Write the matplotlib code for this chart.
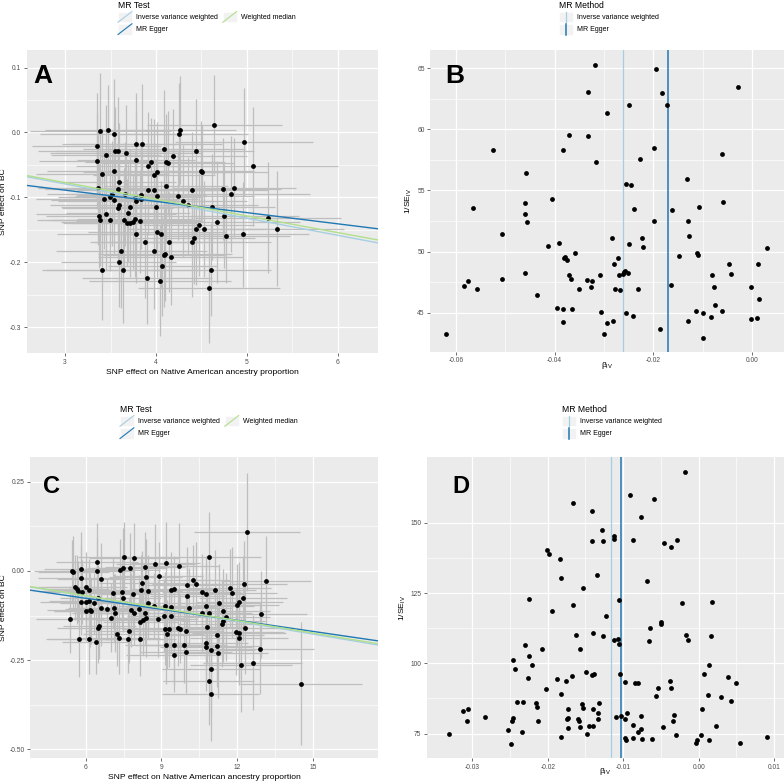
import matplotlib
matplotlib.use('Agg')
import matplotlib.pyplot as plt
import numpy as np
from matplotlib.legend_handler import HandlerBase
from matplotlib.lines import Line2D
from matplotlib.patches import Rectangle

plt.rcParams['font.family'] = ['Liberation Sans', 'DejaVu Sans']
plt.rcParams['mathtext.fontset'] = 'custom'
plt.rcParams['mathtext.rm'] = 'Liberation Sans'
plt.rcParams['mathtext.it'] = 'Liberation Sans:italic'

# ---- panel A : scatter, first cohort ----
bx_a = [3.35, 3.35, 3.39, 3.47, 3.54, 3.45, 3.41, 3.36, 3.43, 3.37,
        3.39, 3.45, 3.49, 3.55, 3.58, 3.54, 3.59, 3.58, 3.52, 3.49,
        3.54, 3.59, 3.58, 3.67, 3.78, 3.85, 3.78, 3.91, 3.94, 3.98,
        4.01, 3.66, 3.77, 3.78, 3.83, 3.84, 3.91, 3.98, 4.01, 4.00,
        3.71, 3.69, 3.65, 3.68, 3.71, 3.75, 3.77, 3.82, 3.78, 3.88,
        4.01, 4.06, 4.14, 3.98, 4.10, 4.09, 4.16, 3.62, 3.59, 3.64,
        3.41, 3.90, 4.04, 4.07, 4.09, 4.11, 4.13, 4.19, 4.11, 4.25,
        4.26, 4.24, 4.30, 4.35, 4.44, 4.40, 4.49, 4.51, 4.40, 4.42,
        4.44, 4.47, 4.53, 4.62, 4.64, 4.67, 4.60, 4.58, 4.74, 4.75,
        4.77, 4.82, 4.86, 4.97, 4.96, 5.07, 5.23, 5.33]
by_a = [-0.021, -0.044, 0.002, 0.004, -0.002, -0.035, -0.064, -0.086, -0.103, -0.129,
        -0.134, -0.126, -0.134, -0.028, -0.029, -0.059, -0.077, -0.087, -0.094, -0.099,
        -0.104, -0.111, -0.117, -0.031, -0.018, -0.018, -0.043, -0.051, -0.046, -0.066,
        -0.061, -0.095, -0.100, -0.106, -0.103, -0.097, -0.088, -0.089, -0.098, -0.114,
        -0.114, -0.124, -0.135, -0.139, -0.139, -0.138, -0.133, -0.137, -0.157, -0.169,
        -0.153, -0.157, -0.168, -0.183, -0.187, -0.189, -0.191, -0.183, -0.200, -0.212,
        -0.211, -0.224, -0.228, -0.206, -0.025, -0.046, -0.047, -0.036, -0.082, -0.003,
        0.004, -0.098, -0.106, -0.112, -0.029, -0.089, -0.059, -0.061, -0.169, -0.163,
        -0.148, -0.142, -0.148, -0.115, 0.012, -0.138, -0.211, -0.239, -0.087, -0.128,
        -0.159, -0.095, -0.085, -0.015, -0.157, -0.052, -0.131, -0.148]
sx_a = [0.71, 0.64, 0.78, 0.69, 0.82, 0.60, 0.73, 0.66, 0.75, 0.58,
        0.70, 0.77, 0.62, 0.85, 0.68, 0.74, 0.63, 0.80, 0.72, 0.57,
        0.69, 0.76, 0.61, 0.83, 0.70, 0.88, 0.65, 0.79, 0.72, 0.67,
        0.81, 0.59, 0.74, 0.86, 0.63, 0.71, 0.78, 0.66, 0.90, 0.62,
        0.75, 0.68, 0.84, 0.60, 0.73, 0.79, 0.64, 0.70, 0.87, 0.61,
        0.76, 0.69, 0.82, 0.58, 0.74, 0.67, 0.80, 0.72, 0.63, 0.85,
        0.66, 0.71, 0.78, 0.60, 0.89, 0.65, 0.73, 0.81, 0.68, 0.76,
        0.62, 0.84, 0.70, 0.77, 0.64, 0.83, 0.59, 0.72, 0.86, 0.67,
        0.75, 0.61, 0.80, 0.69, 0.74, 0.91, 0.66, 0.78, 0.63, 0.82,
        0.70, 0.87, 0.68, 0.76, 0.72, 0.93, 0.80, 0.74]
sy_a = [0.082, 0.074, 0.090, 0.069, 0.085, 0.078, 0.071, 0.088, 0.076, 0.080,
        0.072, 0.086, 0.079, 0.067, 0.083, 0.075, 0.091, 0.070, 0.081, 0.077,
        0.084, 0.068, 0.087, 0.073, 0.079, 0.092, 0.074, 0.082, 0.069, 0.086,
        0.077, 0.080, 0.071, 0.089, 0.075, 0.083, 0.070, 0.085, 0.078, 0.073,
        0.088, 0.076, 0.081, 0.067, 0.084, 0.072, 0.090, 0.079, 0.074, 0.086,
        0.070, 0.083, 0.077, 0.089, 0.073, 0.080, 0.075, 0.087, 0.069, 0.082,
        0.078, 0.071, 0.085, 0.076, 0.091, 0.074, 0.080, 0.072, 0.088, 0.079,
        0.083, 0.068, 0.086, 0.075, 0.081, 0.090, 0.077, 0.073, 0.084, 0.070,
        0.087, 0.079, 0.074, 0.082, 0.076, 0.094, 0.071, 0.085, 0.078, 0.080,
        0.073, 0.089, 0.076, 0.083, 0.081, 0.092, 0.086, 0.088]

# MR estimates (intercept, slope) for panel A
methods = ['Inverse variance weighted', 'MR Egger', 'Weighted median']
method_colors = ['#A6CEE3', '#1F78B4', '#B2DF8A']
icpt_a = [0.0, -0.0369, 0.0]
slope_a = [-0.0264, -0.0173, -0.0257]

# ---- panel B : funnel, first cohort ----
beta_b = [-0.0620, -0.0584, -0.0576, -0.0558, -0.0565, -0.0525, -0.0506, -0.0506, -0.0459, -0.0461,
          -0.0460, -0.0457, -0.0460, -0.0436, -0.0414, -0.0406, -0.0391, -0.0395, -0.0384, -0.0383,
          -0.0382, -0.0379, -0.0376, -0.0372, -0.0366, -0.0364, -0.0359, -0.0370, -0.0383, -0.0351,
          -0.0334, -0.0333, -0.0332, -0.0326, -0.0324, -0.0318, -0.0317, -0.0309, -0.0307, -0.0300,
          -0.0295, -0.0295, -0.0284, -0.0281, -0.0280, -0.0277, -0.0271, -0.0269, -0.0267, -0.0262,
          -0.0259, -0.0258, -0.0255, -0.0251, -0.0249, -0.0249, -0.0255, -0.0245, -0.0241, -0.0239,
          -0.0232, -0.0228, -0.0223, -0.0222, -0.0199, -0.0199, -0.0195, -0.0187, -0.0182, -0.0172,
          -0.0165, -0.0163, -0.0149, -0.0132, -0.0130, -0.0129, -0.0128, -0.0114, -0.0111, -0.0109,
          -0.0108, -0.0100, -0.0099, -0.0084, -0.0082, -0.0078, -0.0075, -0.0061, -0.0061, -0.0058,
          -0.0047, -0.0043, -0.0028, -0.0003, -0.0002, 0.0009, 0.0012, 0.0014, 0.0030]
inv_se_b = [43.25, 47.21, 47.62, 46.97, 53.58, 58.31, 51.45, 47.73, 56.45, 53.99,
            53.09, 52.38, 48.25, 46.48, 50.44, 54.32, 50.74, 45.38, 45.33, 44.23,
            49.45, 49.56, 49.29, 48.06, 47.73, 45.33, 49.92, 59.56, 58.28, 46.91,
            47.70, 59.45, 63.09, 47.10, 47.62, 65.30, 57.32, 48.09, 45.08, 43.22,
            61.37, 44.15, 51.12, 44.29, 48.96, 46.91, 49.48, 48.09, 46.83, 48.20,
            48.31, 48.42, 45.00, 48.25, 50.63, 62.02, 55.52, 55.41, 44.75, 53.52,
            46.91, 57.60, 51.12, 50.36, 52.49, 58.44, 64.95, 43.63, 63.01, 62.00,
            47.30, 53.39, 49.62, 55.90, 44.29, 52.46, 51.28, 45.16, 49.84, 49.70,
            53.66, 44.97, 42.92, 44.64, 48.06, 47.13, 45.63, 57.98, 45.14, 54.07,
            48.99, 48.17, 63.50, 47.08, 44.51, 44.54, 49.02, 46.09, 50.33]
vline_b = [-0.0262, -0.0171]

# ---- panel C : scatter, second cohort ----
bx_c = [5.39, 5.46, 5.51, 5.59, 5.64, 5.68, 5.80, 5.83, 5.84, 6.03,
        6.12, 5.74, 5.83, 6.03, 6.11, 6.03, 6.15, 6.21, 6.13, 6.33,
        6.44, 6.44, 6.48, 6.62, 6.42, 6.48, 6.53, 6.62, 6.85, 7.08,
        7.12, 7.16, 6.99, 7.24, 7.31, 7.37, 7.48, 7.52, 7.48, 7.45,
        7.70, 7.76, 7.69, 7.89, 7.92, 7.92, 7.78, 8.11, 8.19, 8.23,
        8.38, 8.35, 8.48, 8.35, 8.38, 8.26, 8.17, 8.17, 8.47, 8.76,
        8.89, 8.72, 8.85, 9.12, 9.15, 9.18, 9.15, 9.29, 9.24, 9.18,
        9.38, 9.38, 9.40, 9.48, 9.48, 9.48, 9.67, 9.73, 9.71, 9.89,
        9.96, 9.96, 10.03, 10.03, 10.11, 10.27, 10.39, 10.59, 10.59, 10.77,
        10.78, 10.82, 10.88, 10.89, 10.78, 10.78, 10.98, 10.97, 10.88, 10.96,
        11.11, 11.21, 11.21, 11.25, 11.30, 11.41, 11.44, 11.46, 11.58, 11.71,
        11.80, 11.95, 11.99, 12.08, 12.09, 12.09, 12.16, 12.24, 12.29, 12.32,
        12.38, 12.62, 12.89, 12.95, 13.14, 14.54]
by_c = [-0.136, -0.001, -0.004, -0.046, -0.052, -0.057, 0.006, -0.020, -0.059, -0.046,
        -0.054, -0.192, -0.087, -0.087, -0.083, -0.112, -0.110, -0.112, -0.191, -0.091,
        0.025, 0.001, -0.075, -0.024, -0.199, -0.160, -0.155, -0.105, -0.107, -0.061,
        -0.104, -0.118, -0.131, -0.177, -0.188, 0.002, 0.007, 0.039, -0.077, -0.059,
        -0.168, 0.007, -0.191, -0.065, 0.036, -0.119, -0.110, -0.106, -0.054, -0.035,
        -0.016, 0.012, -0.057, -0.118, -0.131, -0.138, -0.143, -0.190, -0.091, 0.018,
        -0.015, -0.098, -0.135, -0.126, -0.099, 0.023, -0.164, -0.164, -0.178, -0.209,
        -0.126, -0.100, -0.054, -0.050, -0.209, -0.235, -0.159, -0.162, 0.014, -0.209,
        -0.169, -0.227, -0.040, -0.069, -0.103, -0.026, -0.036, -0.058, -0.117, -0.065,
        -0.097, -0.157, -0.118, 0.039, -0.201, -0.214, -0.221, -0.275, -0.309, -0.346,
        -0.054, -0.180, -0.211, -0.231, -0.090, -0.148, -0.141, -0.113, -0.129, -0.048,
        -0.061, -0.172, -0.096, -0.188, -0.087, -0.174, -0.263, -0.077, -0.038, -0.161,
        0.109, -0.257, -0.218, -0.122, -0.029, -0.316]
sx_c = [1.35, 1.52, 1.41, 1.68, 1.29, 1.57, 1.44, 1.73, 1.36, 1.61,
        1.48, 1.32, 1.66, 1.39, 1.55, 1.27, 1.70, 1.46, 1.58, 1.34,
        1.63, 1.42, 1.51, 1.76, 1.38, 1.60, 1.45, 1.31, 1.67, 1.53,
        1.40, 1.72, 1.49, 1.36, 1.64, 1.57, 1.43, 1.81, 1.50, 1.37,
        1.69, 1.46, 1.55, 1.33, 1.78, 1.48, 1.62, 1.40, 1.54, 1.71,
        1.44, 1.59, 1.35, 1.66, 1.52, 1.84, 1.47, 1.39, 1.63, 1.56,
        1.75, 1.42, 1.60, 1.50, 1.68, 1.37, 1.58, 1.86, 1.45, 1.62,
        1.53, 1.79, 1.41, 1.67, 1.55, 1.90, 1.48, 1.64, 1.57, 1.73,
        1.44, 1.82, 1.61, 1.50, 1.69, 1.46, 1.77, 1.58, 1.65, 1.52,
        1.88, 1.60, 1.71, 2.05, 1.66, 1.83, 1.74, 1.95, 1.80, 1.92,
        1.63, 1.86, 1.70, 1.98, 1.59, 1.76, 1.68, 1.85, 1.73, 1.62,
        1.79, 1.91, 1.66, 1.94, 1.72, 1.87, 2.02, 1.75, 1.69, 1.84,
        2.10, 1.97, 2.15, 1.81, 1.78, 2.42]
sy_c = [0.095, 0.088, 0.102, 0.091, 0.097, 0.085, 0.104, 0.093, 0.089, 0.100,
        0.087, 0.106, 0.094, 0.090, 0.098, 0.084, 0.103, 0.092, 0.099, 0.086,
        0.108, 0.095, 0.091, 0.101, 0.089, 0.097, 0.093, 0.105, 0.088, 0.099,
        0.094, 0.110, 0.096, 0.090, 0.102, 0.087, 0.112, 0.098, 0.093, 0.104,
        0.091, 0.100, 0.095, 0.108, 0.097, 0.089, 0.103, 0.094, 0.099, 0.092,
        0.106, 0.096, 0.101, 0.090, 0.111, 0.098, 0.094, 0.105, 0.100, 0.113,
        0.097, 0.092, 0.107, 0.102, 0.095, 0.115, 0.099, 0.104, 0.096, 0.109,
        0.101, 0.098, 0.106, 0.093, 0.112, 0.103, 0.108, 0.097, 0.120, 0.105,
        0.100, 0.114, 0.107, 0.102, 0.110, 0.099, 0.116, 0.104, 0.111, 0.106,
        0.118, 0.103, 0.113, 0.125, 0.108, 0.122, 0.117, 0.128, 0.124, 0.130,
        0.112, 0.119, 0.115, 0.126, 0.109, 0.121, 0.114, 0.118, 0.123, 0.110,
        0.127, 0.120, 0.116, 0.131, 0.113, 0.125, 0.132, 0.119, 0.122, 0.129,
        0.165, 0.134, 0.128, 0.121, 0.126, 0.172]
icpt_c = [0.0, -0.0149, 0.0]
slope_c = [-0.0118, -0.0103, -0.0116]

# ---- panel D : funnel, second cohort ----
beta_d = [-0.00188, -0.00916, -0.00596, -0.01661, -0.01408, -0.00765, -0.01279, -0.01129, -0.01124, -0.01408,
          -0.01262, -0.00867, -0.00282, -0.00455, -0.00366, -0.02011, -0.01984, -0.01843, -0.01825, -0.01346,
          -0.00681, -0.01528, -0.02242, -0.01058, -0.00220, 0.00171, -0.01665, -0.01940, -0.01226, -0.00503,
          -0.00494, -0.00641, -0.01399, -0.01625, -0.01271, -0.00175, 0.00166, -0.01124, -0.01071, -0.00144,
          -0.00654, -0.01058, -0.02299, -0.02082, -0.01568, -0.02455, -0.02242, -0.02437, -0.02211, -0.02259,
          -0.01878, -0.01754, -0.01674, -0.01488, -0.01412, -0.01390, -0.01049, -0.00978, -0.00840, -0.00809,
          -0.00379, -0.00366, -0.00534, 0.00140, 0.00064, 0.00384, 0.00490, -0.02029, -0.01820, 0.00122,
          0.00290, 0.00428, -0.00565, -0.02410, -0.02322, -0.02162, -0.02144, -0.01545, -0.01324, -0.03129,
          -0.03053, -0.03075, -0.02827, -0.02463, -0.02477, -0.02131, -0.01727, -0.01528, -0.01399, -0.01328,
          -0.01732, -0.01745, -0.01603, -0.01590, -0.01333, -0.01093, -0.01035, -0.00978, -0.00951, -0.00765,
          -0.00321, -0.00344, 0.00047, -0.01727, -0.01568, -0.01452, -0.01395, -0.01475, -0.00871, -0.00765,
          -0.00800, -0.00477, 0.00224, -0.02530, -0.02335, -0.01820, -0.02490, -0.03315, -0.00973, -0.00960,
          -0.00876, -0.00747, -0.00619, -0.00304, 0.00029, -0.00029, -0.00033, 0.00131, 0.00548, 0.00911]
inv_se_d = [168.2, 160.0, 158.7, 157.1, 154.1, 152.0, 147.6, 145.3, 144.2, 143.5,
            143.5, 143.8, 143.8, 142.7, 141.6, 140.4, 139.1, 137.2, 130.5, 131.4,
            129.3, 126.9, 122.9, 122.4, 121.6, 121.9, 120.7, 118.7, 117.0, 114.8,
            114.0, 112.7, 110.8, 110.0, 109.6, 110.1, 109.6, 108.5, 108.6, 108.5,
            108.1, 107.0, 106.6, 105.1, 105.1, 101.3, 102.8, 98.1, 99.4, 94.8,
            94.3, 93.6, 95.6, 96.9, 96.0, 96.1, 96.2, 93.4, 92.9, 92.9,
            93.7, 91.2, 91.2, 99.4, 96.2, 95.3, 93.0, 90.9, 89.0, 88.6,
            88.0, 86.7, 88.5, 86.1, 86.3, 86.0, 84.4, 85.4, 86.0, 82.9,
            83.9, 79.6, 80.9, 80.7, 79.6, 79.6, 83.8, 84.0, 83.6, 82.2,
            80.5, 80.2, 80.1, 79.5, 80.3, 80.9, 81.4, 80.2, 82.2, 81.4,
            81.6, 79.5, 83.6, 76.9, 77.5, 77.7, 77.7, 74.9, 78.0, 76.5,
            75.4, 77.4, 77.7, 76.3, 75.5, 73.7, 71.2, 74.8, 73.6, 72.7,
            73.6, 73.0, 73.0, 74.4, 74.4, 72.7, 71.6, 72.6, 71.8, 73.7]
vline_d = [-0.0116, -0.0103]

W, H = 784, 781
fig = plt.figure(figsize=(W / 100, H / 100), dpi=100)


def px_axes(left, top, right, bottom):
    return fig.add_axes([left / W, 1 - bottom / H, (right - left) / W, (bottom - top) / H])


def gg_style(ax, xticks, xlabels, yticks, ylabels, xlim, ylim):
    ax.set_facecolor('#EBEBEB')
    for s in ax.spines.values():
        s.set_visible(False)
    ax.set_xlim(xlim)
    ax.set_ylim(ylim)
    ax.set_xticks(xticks)
    ax.set_xticklabels(xlabels)
    ax.set_yticks(yticks)
    ax.set_yticklabels(ylabels)
    ax.set_xticks((np.array(xticks[:-1]) + np.array(xticks[1:])) / 2, minor=True)
    ax.set_yticks((np.array(yticks[:-1]) + np.array(yticks[1:])) / 2, minor=True)
    ax.tick_params(which='major', labelsize=4.8, labelcolor='#4D4D4D', color='#333333',
                   length=2.5, width=0.5, pad=1.5)
    ax.tick_params(which='minor', length=0)
    ax.grid(which='major', color='white', lw=0.9)
    ax.grid(which='minor', color='white', lw=0.45)
    ax.set_axisbelow(True)


class DiagHandler(HandlerBase):
    def create_artists(self, legend, orig, xd, yd, w, h, fs, trans):
        bg = Rectangle((-xd, -yd), w, h, facecolor='#F2F2F2', edgecolor='white', lw=0.5, transform=trans)
        ln = Line2D([-xd, -xd + w], [-yd, -yd + h], color=orig.get_color(), lw=0.8, transform=trans)
        return [bg, ln]


class VertHandler(HandlerBase):
    def create_artists(self, legend, orig, xd, yd, w, h, fs, trans):
        bg = Rectangle((-xd, -yd), w, h, facecolor='#F2F2F2', edgecolor='white', lw=0.5, transform=trans)
        ln = Line2D([-xd + w / 2] * 2, [-yd, -yd + h], color=orig.get_color(),
                    lw=orig.get_linewidth(), transform=trans)
        return [bg, ln]


def add_legend(handles, labels, title, x, y, ncol, handler):
    lg = fig.legend(handles, labels, title=title, loc='upper left', bbox_to_anchor=(x / W, 1 - y / H),
                    ncol=ncol, frameon=False, fontsize=5.0, title_fontsize=6.2, alignment='left',
                    handlelength=2.0, handleheight=2.0, labelspacing=0.22, handletextpad=0.6,
                    columnspacing=0.7, borderpad=0, borderaxespad=0,
                    handler_map={Line2D: handler})
    return lg


def scatter_panel(ax, bx, by, sx, sy, icpt, slope):
    ax.errorbar(bx, by, xerr=sx, yerr=sy, fmt='none', ecolor='#BEBEBE', elinewidth=0.9, capsize=0, zorder=2)
    ax.scatter(bx, by, s=12, color='black', zorder=3, linewidths=0)
    for a, b, c in zip(icpt, slope, method_colors):
        ax.axline((0, a), slope=b, color=c, lw=1.0, zorder=4)
    ax.set_xlabel('SNP effect on Native American ancestry proportion', fontsize=6.1, labelpad=2)
    ax.set_ylabel('SNP effect on BC', fontsize=6.1, labelpad=2)


def funnel_panel(ax, beta, inv_se, vlines):
    ax.scatter(beta, inv_se, s=12, color='black', zorder=3, linewidths=0)
    ax.axvline(vlines[0], color=method_colors[0], lw=0.9, zorder=2)
    ax.axvline(vlines[1], color=method_colors[1], lw=1.1, zorder=2)
    ax.set_xlabel('β$_{\\mathrm{IV}}$', fontsize=6.1)
    ax.xaxis.set_label_coords(0.5, -0.026)
    ax.set_ylabel('1/SE$_{\\mathrm{IV}}$', fontsize=6.1, labelpad=2)


# A
axA = px_axes(26.7, 50, 378.3, 353.3)
gg_style(axA, [3, 4, 5, 6], ['3', '4', '5', '6'],
         [-0.3, -0.2, -0.1, 0.0, 0.1], ['-0.3', '-0.2', '-0.1', '0.0', '0.1'],
         (2.579, 6.443), (-0.340, 0.127))
scatter_panel(axA, bx_a, by_a, sx_a, sy_a, icpt_a, slope_a)
axA.text(0.018, 0.955, 'A', transform=axA.transAxes, fontsize=19, fontweight='bold', va='top', ha='left')

# B
axB = px_axes(430.3, 50, 783.7, 351.7)
gg_style(axB, [-0.06, -0.04, -0.02, 0.00], ['-0.06', '-0.04', '-0.02', '0.00'],
         [45, 50, 55, 60, 65], ['45', '50', '55', '60', '65'],
         (-0.0652, 0.0064), (41.8, 66.5))
funnel_panel(axB, beta_b, inv_se_b, vline_b)
axB.text(0.042, 0.955, 'B', transform=axB.transAxes, fontsize=19, fontweight='bold', va='top', ha='left')

# C
axC = px_axes(30, 457, 378.3, 758.3)
gg_style(axC, [6, 9, 12, 15], ['6', '9', '12', '15'],
         [-0.5, -0.25, 0.0, 0.25], ['-0.50', '-0.25', '0.00', '0.25'],
         (3.79, 17.60), (-0.525, 0.319))
scatter_panel(axC, bx_c, by_c, sx_c, sy_c, icpt_c, slope_c)
axC.text(0.037, 0.94, 'C', transform=axC.transAxes, fontsize=17, fontweight='bold', va='top', ha='left')

# D
axD = px_axes(427, 457, 784, 758.3)
gg_style(axD, [-0.03, -0.02, -0.01, 0.00, 0.01], ['-0.03', '-0.02', '-0.01', '0.00', '0.01'],
         [75, 100, 125, 150], ['75', '100', '125', '150'],
         (-0.0360, 0.0113), (66.2, 173.5))
funnel_panel(axD, beta_d, inv_se_d, vline_d)
axD.text(0.07, 0.94, 'D', transform=axD.transAxes, fontsize=17, fontweight='bold', va='top', ha='left')

# legends
test_handles = [Line2D([], [], color=c) for c in method_colors]
meth_handles = [Line2D([], [], color=method_colors[0], lw=0.9), Line2D([], [], color=method_colors[1], lw=1.1)]
add_legend(test_handles, methods, 'MR Test', 118, 1, 2, DiagHandler())
add_legend(meth_handles, methods[:2], 'MR Method', 559, 1, 1, VertHandler())
add_legend(test_handles, methods, 'MR Test', 120, 405, 2, DiagHandler())
add_legend(meth_handles, methods[:2], 'MR Method', 562, 405, 1, VertHandler())

fig.savefig('out.png', dpi=100)
